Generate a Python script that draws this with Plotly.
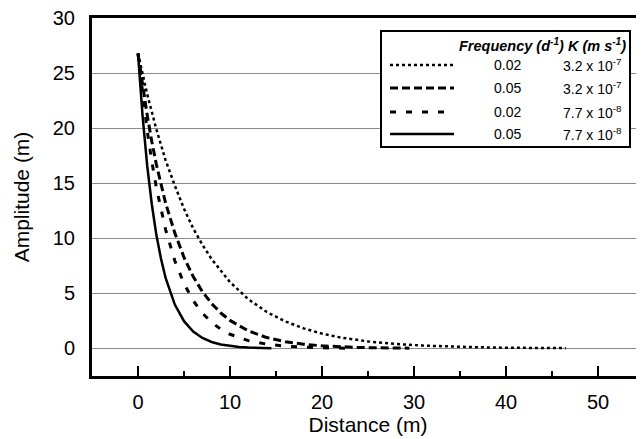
import plotly.graph_objects as go

# ---- data ----
x_dotted = [0, 1, 2, 3, 4, 5, 6, 7, 8, 10, 12, 14, 16, 18, 20, 22, 25, 28, 31, 34, 37, 40, 43, 46.5]
y_dotted = [26.8, 23.1, 19.9, 17.1, 14.8, 12.7, 10.9, 9.43, 8.12, 6.03, 4.47, 3.31, 2.46, 1.83, 1.35, 1.00,
            0.64, 0.41, 0.26, 0.17, 0.11, 0.07, 0.04, 0.03]

x_dashed = [0, 0.5, 1, 1.5, 2, 3, 4, 5, 6, 7, 8, 9, 10, 12, 14, 16, 18, 20, 22, 24, 26, 29.5]
y_dashed = [26.8, 23.8, 21.2, 18.8, 16.7, 13.2, 10.5, 8.27, 6.53, 5.16, 4.08, 3.22, 2.55, 1.59, 0.99, 0.62,
            0.39, 0.24, 0.15, 0.09, 0.06, 0.03]

x_sparse = [0, 0.5, 1, 1.5, 2, 3, 4, 5, 6, 7, 8, 9, 10, 12, 14, 16, 18, 20, 22.5]
y_sparse = [26.8, 23.0, 19.8, 17.0, 14.6, 10.8, 7.97, 5.89, 4.35, 3.21, 2.37, 1.75, 1.29, 0.71, 0.39, 0.21,
            0.11, 0.06, 0.03]

x_solid = [0, 0.5, 1, 1.5, 2, 2.5, 3, 4, 5, 6, 7, 8, 9, 10, 11, 12, 13, 14.5]
y_solid = [26.8, 21.1, 16.6, 13.1, 10.3, 8.15, 6.42, 3.99, 2.48, 1.54, 0.96, 0.59, 0.37, 0.23, 0.14, 0.09,
           0.05, 0.03]

freq_labels = ["0.02", "0.05", "0.02", "0.05"]
k_labels = ["3.2 x 10<sup>-7</sup>", "3.2 x 10<sup>-7</sup>", "7.7 x 10<sup>-8</sup>", "7.7 x 10<sup>-8</sup>"]
x_ticks = [0, 10, 20, 30, 40, 50]
y_ticks = [0, 5, 10, 15, 20, 25, 30]

FONT = "Liberation Sans, Arial, sans-serif"
styles = [
    dict(width=2.5, dash="3px,3px"),
    dict(width=3, dash="8px,4px"),
    dict(width=3, dash="6px,10px"),
    dict(width=2.5, dash="solid"),
]
series = [(x_dotted, y_dotted), (x_dashed, y_dashed), (x_sparse, y_sparse), (x_solid, y_solid)]

fig = go.Figure()
for (xs, ys), st in zip(series, styles):
    fig.add_trace(go.Scatter(x=xs, y=ys, mode="lines", showlegend=False,
                             line=dict(color="black", width=st["width"], dash=st["dash"])))

# page is offset by the default 8px body margin
OFF = 8
W, H = 644 - OFF, 439 - OFF
# plot area in page pixels
L, R, T, B = 92, 644, 18, 376


def px(xp):
    return (xp - L) / (R - L)


def py(yp):
    return (B - yp) / (B - T)


shapes = [dict(type="rect", xref="paper", yref="paper", x0=px(381), x1=px(630), y0=py(147), y1=py(31),
               line=dict(color="black", width=2), fillcolor="white", layer="above")]
annotations = [dict(xref="paper", yref="paper", x=px(628), y=py(45), xanchor="right", yanchor="middle",
                    text="<b><i>Frequency (d<sup>-1</sup>) K (m s<sup>-1</sup>)</i></b>", showarrow=False,
                    font=dict(family=FONT, size=14.5, color="black"))]
row_y = [65, 88, 112, 134]
for ry, st, fl, kl in zip(row_y, styles, freq_labels, k_labels):
    shapes.append(dict(type="line", xref="paper", yref="paper", x0=px(390), x1=px(454), y0=py(ry), y1=py(ry),
                       line=dict(color="black", width=st["width"], dash=st["dash"]), layer="above"))
    annotations.append(dict(xref="paper", yref="paper", x=px(507), y=py(ry), xanchor="center", yanchor="middle",
                            text=fl, showarrow=False, font=dict(family=FONT, size=14, color="black")))
    annotations.append(dict(xref="paper", yref="paper", x=px(592), y=py(ry), xanchor="center", yanchor="middle",
                            text=kl, showarrow=False, font=dict(family=FONT, size=14, color="black")))

fig.update_layout(
    width=W, height=H,
    margin=dict(l=L - OFF, r=0, t=T - OFF, b=H - (B - OFF)),
    paper_bgcolor="white", plot_bgcolor="white",
    font=dict(family=FONT, color="black"),
    shapes=shapes, annotations=annotations,
    xaxis=dict(range=[-5, 55], tickvals=x_ticks, ticks="inside", ticklen=10, tickwidth=2, tickcolor="black",
               minor=dict(dtick=5, tick0=5, ticks="inside", ticklen=5, tickwidth=2, tickcolor="black"),
               showgrid=False, zeroline=False, showline=True, linewidth=3, linecolor="black", mirror=True,
               tickfont=dict(size=20), ticklabelstandoff=6, automargin=False,
               title=dict(text="Distance (m)", font=dict(size=21), standoff=6)),
    yaxis=dict(range=[-2.5, 30.02], tickvals=y_ticks, ticks="", showgrid=True, gridcolor="#8a8a8a", gridwidth=1,
               zeroline=False, showline=True, linewidth=3, linecolor="black", mirror=False,
               tickfont=dict(size=20), ticklabelstandoff=10, automargin=False, ticklabeloverflow="allow",
               title=dict(text="Amplitude (m)", font=dict(size=21), standoff=18)),
)

fig.write_html("out.html")
